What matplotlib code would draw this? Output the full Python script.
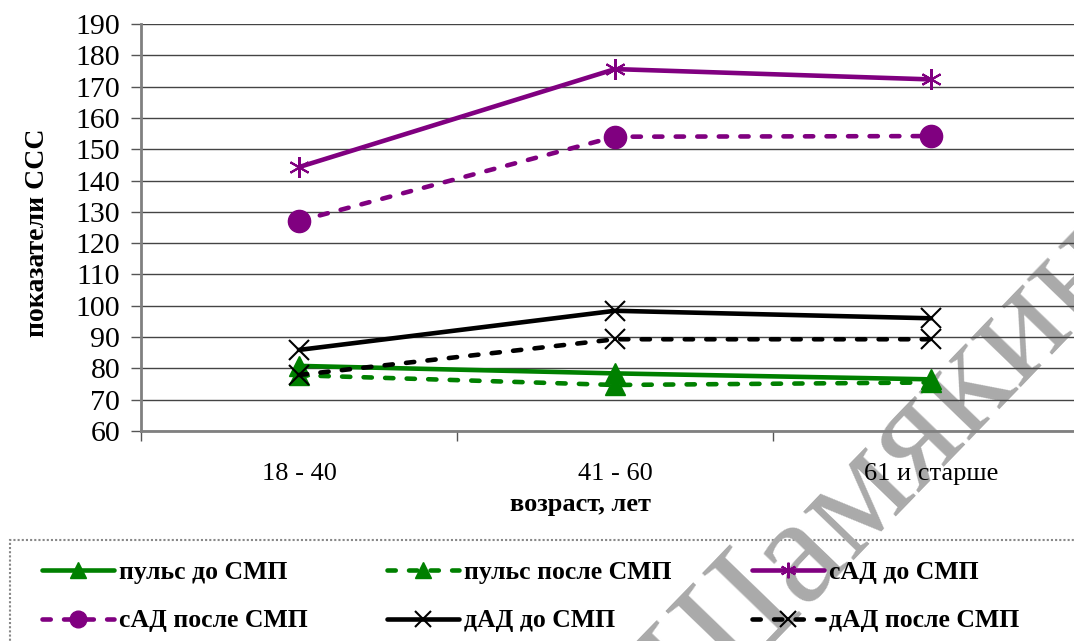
import matplotlib
matplotlib.use('Agg')
import matplotlib.pyplot as plt
from matplotlib.patches import Rectangle

plt.rcParams['font.family'] = ['Liberation Serif', 'DejaVu Serif']

categories = ['18 - 40', '41 - 60', '61 и старше']
pulse_before = [80.8, 78.4, 76.5]
pulse_after = [77.8, 74.7, 75.5]
sad_before = [144.3, 175.6, 172.3]
sad_after = [127.1, 154.0, 154.2]
dad_before = [85.9, 98.4, 96.0]
dad_after = [77.9, 89.3, 89.3]
yticks = list(range(60, 191, 10))

green = '#008000'
purple = '#800080'
black = '#000000'

fig = plt.figure(figsize=(10.74, 6.41), dpi=100, facecolor='white')
ax = fig.add_axes([141/1074, 210/641, 948/1074, 407/641])
ax.patch.set_visible(False)

x = list(range(len(categories)))
dash = (1.8, 2.9)

series = [
    # label, values, color, dashed, marker, size, mew
    ('пульс до СМП', pulse_before, green, False, '^', 15, 1),
    ('пульс после СМП', pulse_after, green, True, '^', 15, 1),
    ('сАД до СМП', sad_before, purple, False, (6, 2, 0), 15, 1.5),
    ('сАД после СМП', sad_after, purple, True, 'o', 16, 1),
    ('дАД до СМП', dad_before, black, False, 'x', 15, 1.5),
    ('дАД после СМП', dad_after, black, True, 'x', 15, 1.5),
]

handles = {}
for label, vals, col, dashed, mk, ms, mew in series:
    ln, = ax.plot(x, vals, color=col, lw=3.3, marker=mk, ms=ms, mfc=col, mec=col,
                  mew=mew, solid_capstyle='round', dash_capstyle='round',
                  zorder=3, clip_on=False)
    if dashed:
        ln.set_dashes(dash)
    handles[label] = ln

ax.set_xlim(-0.5, 2.5)
ax.set_ylim(60, 190)
ax.set_yticks(yticks)
ax.tick_params(axis='y', labelsize=21.5, length=7, width=1, color='#555555', pad=8)
ax.yaxis.grid(True, color='#444444', lw=1)
ax.set_axisbelow(True)

ax.set_xticks([-0.5, 0.5, 1.5, 2.5])
ax.set_xticklabels([])
ax.set_xticks(x, minor=True)
ax.set_xticklabels(categories, minor=True)
ax.tick_params(axis='x', which='major', length=7, width=1, color='#555555')
ax.tick_params(axis='x', which='minor', length=0, labelsize=19, pad=23)

for s in ['top', 'right']:
    ax.spines[s].set_visible(False)
ax.spines['left'].set_color('#808080')
ax.spines['left'].set_linewidth(2)
ax.spines['bottom'].set_color('#808080')
ax.spines['bottom'].set_linewidth(2)

ax.set_xlabel('возраст, лет', fontsize=19, fontweight='bold', labelpad=6)
ax.xaxis.label.set_x(0.464)
ax.set_ylabel('показатели ССС', fontsize=20, fontweight='bold', labelpad=18)
ax.yaxis.label.set_y(0.486)

# legend frame
frame = Rectangle((10/1074, -0.1), 1.2, 101/641 + 0.1, transform=fig.transFigure,
                  facecolor='white', edgecolor='#888888', lw=1.5,
                  linestyle=(0, (1, 1)), zorder=-3)
fig.patches.append(frame)

# watermark
fig.text(888, 641 - 468, 'Шамякин', transform=None, fontsize=110, color='#aaaaaa',
         rotation=46, ha='center', va='center', rotation_mode='anchor', zorder=-2)

cells = [
    ('пульс до СМП', 42, 572), ('пульс после СМП', 387, 572), ('сАД до СМП', 752, 572),
    ('сАД после СМП', 42, 621), ('дАД до СМП', 387, 621), ('дАД после СМП', 752, 621),
]
for label, xpos, ypos in cells:
    leg = fig.legend([handles[label]], [label], loc='center left',
                     bbox_to_anchor=(xpos/1074, 1 - ypos/641), frameon=False,
                     prop={'size': 18.5, 'weight': 'bold'}, handlelength=2.8,
                     handletextpad=0.2, borderpad=0, borderaxespad=0,
                     numpoints=1, markerscale=0.75)
    leg.set_zorder(2)

fig.savefig('out.png', dpi=100)
